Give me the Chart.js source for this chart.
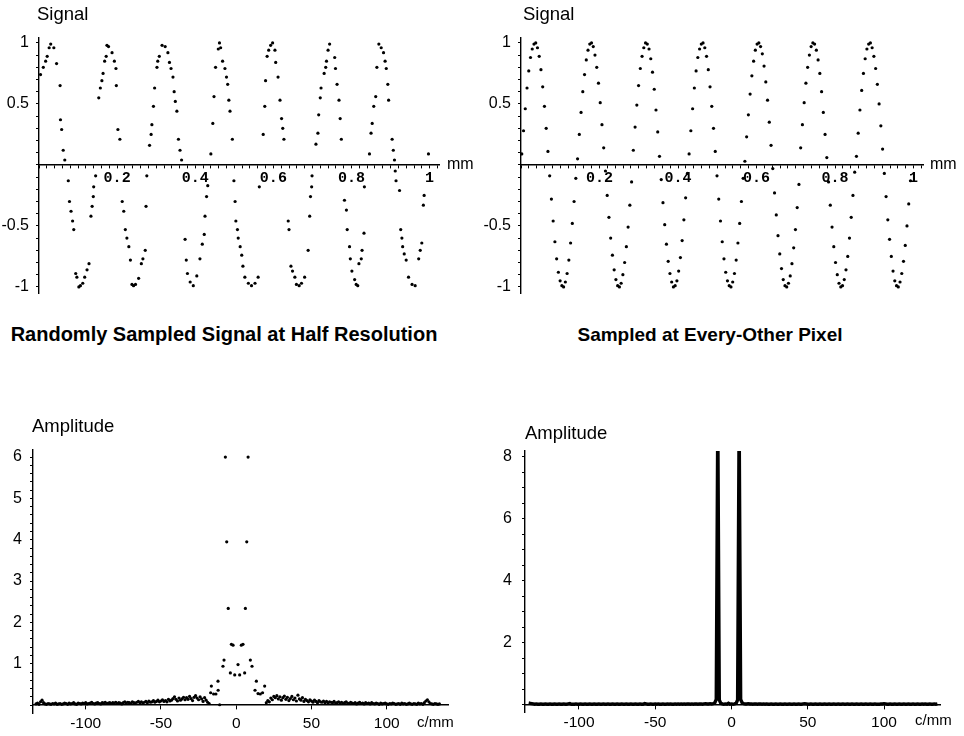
<!DOCTYPE html>
<html>
<head>
<meta charset="utf-8">
<title>Sampled signal and amplitude spectrum</title>
<script src="https://cdn.jsdelivr.net/npm/chart.js@4.4.1/dist/chart.umd.min.js"></script>
<style>
  body { margin: 0; background: #fff; }
  #page { position: relative; width: 964px; height: 736px; overflow: hidden;
          font-family: "Liberation Sans", Arial, Helvetica, sans-serif; color: #000; }
  #page canvas { position: absolute; }
  .txt { position: absolute; white-space: nowrap; line-height: 1; }
  .head { font-weight: bold; transform: translateX(-50%); }
</style>
</head>
<body>
<div id="page">
  <canvas id="randomChart" width="480" height="310" style="left:0;top:0"></canvas>
  <canvas id="evenChart" width="484" height="310" style="left:480px;top:0"></canvas>
  <canvas id="randomSpectrum" width="480" height="326" style="left:0;top:410px"></canvas>
  <canvas id="evenSpectrum" width="484" height="326" style="left:480px;top:410px"></canvas>

  <div class="txt" style="left:37px;top:5px;font-size:18.5px">Signal</div>
  <div class="txt" style="left:523px;top:5px;font-size:18.5px">Signal</div>
  <div class="txt" style="left:447px;top:156px;font-size:16px">mm</div>
  <div class="txt" style="left:930px;top:156px;font-size:16px">mm</div>

  <div class="txt head" style="left:224px;top:324px;font-size:20px">Randomly Sampled Signal at Half Resolution</div>
  <div class="txt head" style="left:710px;top:325px;font-size:19px">Sampled at Every-Other Pixel</div>

  <div class="txt" style="left:32px;top:417px;font-size:18.5px">Amplitude</div>
  <div class="txt" style="left:525px;top:424px;font-size:18.5px">Amplitude</div>
  <div class="txt" style="left:417px;top:714px;font-size:15px">c/mm</div>
  <div class="txt" style="left:915px;top:712px;font-size:15px">c/mm</div>
</div>

<script>
// Randomly sampled signal: position (mm) and value
const randomX = [
  .004, .011, .017, .021, .026, .030, .038, .045, .054, .055,
  .058, .062, .066, .075, .078, .082, .086, .089, .094, .097,
  .102, .106, .112, .117, .123, .128, .133, .136, .139, .140,
  .145, .153, .157, .161, .164, .168, .172, .174, .178, .187,
  .193, .197, .198, .202, .207, .213, .217, .221, .225, .230,
  .234, .238, .242, .247, .255, .262, .266, .272, .274, .276,
  .283, .287, .289, .293, .296, .302, .304, .308, .315, .323,
  .330, .334, .338, .343, .346, .349, .353, .357, .361, .365,
  .374, .377, .380, .387, .395, .404, .412, .418, .423, .425,
  .429, .432, .440, .445, .448, .452, .459, .462, .465, .470,
  .476, .480, .483, .486, .489, .495, .499, .502, .504, .508,
  .510, .515, .519, .522, .527, .536, .544, .553, .561, .564,
  .574, .578, .580, .584, .588, .593, .598, .604, .606, .612,
  .617, .621, .624, .627, .638, .640, .645, .649, .655, .659,
  .666, .672, .680, .689, .693, .695, .698, .699, .709, .714,
  .716, .720, .722, .730, .734, .736, .740, .744, .757, .759,
  .763, .768, .771, .774, .782, .787, .789, .795, .797, .801,
  .808, .812, .816, .819, .825, .827, .832, .833, .846, .850,
  .853, .857, .862, .865, .870, .876, .882, .886, .889, .893,
  .895, .904, .907, .910, .912, .914, .923, .926, .929, .931,
  .935, .940, .946, .955, .963, .972, .976, .980, .984, .986, .997
];
const randomY = [
  .74, .80, .85, .89, .96, .99, .96, .83, .65, .37,
  .29, .12, .04, -.13, -.30, -.38, -.46, -.53, -.89, -.92,
  -1, -.99, -.97, -.92, -.86, -.81, -.42, -.34, -.26, -.18,
  -.09, .55, .63, .69, .75, .85, .89, .98, .97, .92,
  .85, .79, .65, .29, .21, -.30, -.38, -.53, -.60, -.67,
  -.78, -.98, -.99, -.98, -.93, -.81, -.77, -.70, -.34, -.09,
  .16, .25, .33, .48, .63, .80, .85, .89, .98, .97,
  .92, .84, .79, .72, .60, .52, .44, .21, .12, .04,
  -.61, -.78, -.89, -.96, -.99, -.91, -.77, -.65, -.57, -.42,
  -.26, -.17, .09, .34, .56, .80, .95, 1, .96, .85,
  .79, .72, .66, .53, .44, .21, -.13, -.30, -.46, -.53,
  -.60, -.67, -.74, -.83, -.92, -.97, -.99, -.97, -.92, -.18,
  .25, .48, .69, .89, .94, .98, 1, .94, .84, .72,
  .53, .38, .30, .21, -.46, -.53, -.83, -.87, -.92, -.98,
  -.99, -.97, -.92, -.70, -.42, -.26, -.18, -.09, .17, .26,
  .41, .55, .63, .75, .80, .85, .94, .99, .88, .79,
  .66, .53, .38, .21, -.29, -.37, -.53, -.67, -.77, -.87,
  -.94, -.98, -.99, -.81, -.77, -.70, -.56, -.18, .09, .26,
  .34, .48, .56, .80, .99, .96, .92, .85, .79, .66,
  .53, .21, .12, .04, -.05, -.13, -.21, -.53, -.60, -.67,
  -.73, -.78, -.92, -.98, -.99, -.77, -.70, -.64, -.33, -.25, .09
];

// Every-other-pixel samples: first position, spacing (mm) and values
const evenStart = 0.002;
const evenStep = 0.00444;
const evenY = [
  .09, .28, .46, .63, .77, .88, .95, .99, 1, .96, .89, .78, .64, .48, .30, .11,
  -.09, -.28, -.46, -.63, -.77, -.88, -.95, -.99, -1, -.96, -.89, -.78, -.64, -.48, -.30, -.11,
  .05, .25, .43, .60, .74, .86, .94, .99, 1, .97, .90, .80, .67, .51, .33, .14,
  -.05, -.25, -.43, -.60, -.74, -.86, -.94, -.99, -1, -.97, -.90, -.80, -.67, -.51, -.33, -.14,
  .12, .31, .49, .65, .79, .89, .96, 1, .99, .95, .87, .76, .62, .45, .27, .07,
  -.12, -.31, -.49, -.65, -.79, -.89, -.96, -1, -.99, -.95, -.87, -.76, -.62, -.45, -.27, -.07,
  .09, .28, .46, .63, .77, .88, .95, .99, 1, .96, .89, .78, .64, .48, .30, .11,
  -.09, -.28, -.46, -.63, -.77, -.88, -.95, -.99, -1, -.96, -.89, -.78, -.64, -.48, -.30, -.11,
  .03, .23, .41, .58, .73, .85, .94, .99, 1, .97, .91, .81, .68, .53, .35, .16,
  -.03, -.23, -.41, -.58, -.73, -.85, -.94, -.99, -1, -.97, -.91, -.81, -.68, -.53, -.35, -.16,
  .14, .33, .51, .67, .80, .90, .97, 1, .99, .94, .86, .75, .60, .43, .25, .06,
  -.14, -.33, -.51, -.67, -.80, -.90, -.97, -1, -.99, -.94, -.86, -.75, -.60, -.43, -.25, -.06,
  .07, .26, .45, .61, .75, .87, .95, .99, 1, .96, .89, .79, .66, .50, .32, .13,
  -.07, -.26, -.45, -.61, -.75, -.87, -.95, -.99, -1, -.96, -.89, -.79, -.66, -.50, -.32, -.13
];

// Spectrum of the random samples: noise floor from -133 c/mm in steps of 1
const floorStart = -133;
const floorY = [
  .03, .05, .02, .08, .12, .06, .03, .02, .04, .03,
  .02, .04, .03, .05, .02, .03, .04, .02, .03, .05,
  .04, .02, .05, .03, .04, .06, .03, .02, .05, .04,
  .03, .05, .04, .06, .03, .04, .05, .07, .04, .03,
  .05, .06, .04, .03, .06, .05, .07, .04, .05, .06,
  .04, .06, .05, .07, .04, .06, .05, .03, .06, .08,
  .05, .07, .06, .04, .08, .06, .05, .07, .09, .06,
  .08, .05, .07, .09, .06, .10, .07, .08, .11, .07,
  .09, .12, .08, .10, .13, .09, .11, .08, .14, .10,
  .12, .16, .20, .14, .10, .17, .12, .15, .19, .13,
  .18, .14, .21, .16, .11, .19, .23, .17, .13, .20,
  .15, .09, .18, .12, .07, .04, null, null, null, null,
  null, null, null, null, null, null, null, null, null, null,
  null, null, null, null, null, null, null, null, null, null,
  null, null, null, null, null, null, null, null, null, null,
  null, null, null, .06, .11, .08, .17, .13, .21, .18,
  .23, .15, .20, .12, .18, .22, .14, .19, .11, .16,
  .21, .13, .17, .10, .24, .15, .12, .18, .09, .14,
  .11, .08, .13, .10, .07, .12, .09, .06, .11, .08,
  .07, .10, .06, .09, .05, .08, .07, .06, .09, .05,
  .06, .08, .05, .07, .04, .06, .08, .05, .04, .07,
  .05, .04, .06, .03, .05, .07, .04, .05, .03, .06,
  .04, .05, .03, .06, .04, .03, .05, .04, .02, .05,
  .03, .04, .05, .03, .02, .04, .03, .05, .04, .02,
  .03, .04, .02, .05, .03, .04, .02, .03, .05, .03,
  .02, .04, .03, .02, .05, .03, .04, .02, .06, .10,
  .13, .08, .04, .03, .02, .04, .03, .02, .03
];
// Spectrum of the random samples: central peak points
const peakX = [-7.2, 7.9, -6.3, 7.0, -5.3, 6.1, -3.2, -2.1, 3.4, 4.5,
  1.2, -3.9, -1.0, 2.3, 5.6, -8.1, 9.4, -8.8, 10.5,
  -12.1, 13.4, -16.5, 18.9, -17.0, -15.0, -13.5, -12.0, 12.5, 14.5, 16.0, 17.5, -11.0];
const peakY = [6.0, 6.0, 3.95, 3.95, 2.34, 2.34, 1.47, 1.45, 1.45, 1.47,
  .98, .78, .73, .73, .78, 1.09, 1.09, .94, .94,
  .58, .58, .46, .46, .30, .27, .27, .36, .36, .28, .27, .30, .01];

// Spectrum of the even samples, from -133 c/mm in steps of 1
const evenSpecStart = -133;
const evenSpecY = [
  .06, .05, .04, .03, .02, .03, .02, .02, .03, .02,
  .02, .03, .02, .02, .03, .02, .02, .03, .02, .02,
  .03, .02, .02, .03, .02, .02, .03, .04, .02, .02,
  .02, .03, .02, .02, .03, .02, .02, .03, .02, .02,
  .03, .02, .02, .03, .02, .02, .03, .02, .02, .03,
  .02, .02, .03, .02, .02, .03, .02, .02, .03, .02,
  .02, .03, .02, .02, .03, .02, .02, .03, .02, .02,
  .03, .02, .02, .03, .02, .02, .04, .03, .02, .02,
  .03, .02, .02, .03, .02, .03, .02, .02, .03, .02,
  .02, .03, .02, .03, .02, .02, .03, .02, .03, .02,
  .03, .02, .03, .02, .03, .03, .02, .03, .02, .03,
  .03, .02, .03, .03, .02, .03, .04, .03, .03, .04,
  .03, .04, .06, .18, 9.3, .16, .05, .03, .02, .03,
  .02, .05, .02, .03, .02, .03, .05, .16, 9.3, .18,
  .06, .04, .03, .03, .04, .03, .03, .02, .03, .03,
  .02, .03, .03, .02, .03, .02, .03, .02, .02, .03,
  .02, .02, .03, .02, .02, .03, .02, .02, .03, .02,
  .02, .03, .02, .02, .03, .02, .02, .03, .02, .02,
  .03, .04, .03, .02, .02, .03, .02, .02, .03, .02,
  .02, .03, .02, .02, .03, .02, .02, .03, .02, .02,
  .03, .02, .02, .03, .02, .02, .03, .02, .02, .03,
  .02, .02, .03, .02, .02, .03, .02, .02, .03, .02,
  .02, .03, .02, .02, .03, .02, .02, .03, .02, .02,
  .02, .03, .03, .04, .03, .02, .02, .03, .02, .02,
  .03, .02, .02, .03, .02, .02, .03, .02, .02, .03,
  .02, .02, .03, .02, .02, .03, .02, .02, .03, .02,
  .03, .02, .02, .03, .02, .02, .03, .02, .03
];

// Tick labels
const signalXLabels = [0.2, 0.4, 0.6, 0.8, 1];
const signalYLabels = [-1, -0.5, 0.5, 1];
const freqLabels = [-100, -50, 0, 50, 100];
const randomAmpLabels = [1, 2, 3, 4, 5, 6];
const evenAmpLabels = [2, 4, 6, 8];

function toPoints(xs, ys) {
  return xs.map((x, i) => ({ x: x, y: ys[i] }));
}

function gridPoints(start, step, ys) {
  const pts = [];
  ys.forEach((y, i) => {
    if (y !== null) pts.push({ x: start + i * step, y: y });
  });
  return pts;
}

function tickMarks(from, to, step) {
  const out = [];
  const n = Math.round((to - from) / step);
  for (let i = 0; i <= n; i++) out.push({ value: +(from + i * step).toFixed(4) });
  return out;
}

function labelFor(list) {
  return (value) => {
    const hit = list.find(l => Math.abs(l - value) < 1e-6);
    return hit === undefined ? '' : String(hit);
  };
}

const sansFont = '"Liberation Sans", Arial, Helvetica, sans-serif';
const monoFont = '"Liberation Mono", "Courier New", monospace';

// boxWidth: room kept left of a y axis for its labels (x axes take no room)
function makeScale(o) {
  return {
    type: 'linear',
    min: o.min,
    max: o.max,
    position: o.position,
    border: { display: true, color: '#000', width: 1.4 },
    grid: { display: true, drawOnChartArea: false, drawTicks: true,
            tickLength: o.tickLength, tickColor: '#000', tickWidth: 1 },
    ticks: { autoSkip: false, maxRotation: 0, padding: o.padding, color: '#000',
             font: o.font, callback: labelFor(o.labels) },
    afterBuildTicks: (s) => { s.ticks = tickMarks(o.from, o.to, o.step); },
    afterFit: (s) => { if (s.isHorizontal()) s.height = 0; else s.width = o.boxWidth; }
  };
}

function baseOptions(padding, scales) {
  return {
    responsive: false,
    animation: false,
    events: [],
    layout: { padding: padding },
    plugins: { legend: { display: false }, tooltip: { enabled: false } },
    scales: scales
  };
}

const dotStyle = { pointRadius: 1.6, pointHoverRadius: 1.6, pointBackgroundColor: '#000', pointBorderWidth: 0 };

function signalScales(boxWidth) {
  return {
    x: makeScale({ min: 0, max: 1.024, position: { y: 0 }, from: 0, to: 1.02, step: 0.02,
                   tickLength: 3, padding: 1, labels: signalXLabels,
                   font: { family: monoFont, size: 15, weight: 'bold' } }),
    y: makeScale({ min: -1.05, max: 1.04, position: 'left', from: -1, to: 1, step: 0.1,
                   tickLength: 3, padding: 7, labels: signalYLabels, boxWidth: boxWidth,
                   font: { family: sansFont, size: 16 } })
  };
}

// Randomly sampled signal
new Chart(document.getElementById('randomChart'), {
  type: 'scatter',
  data: { datasets: [Object.assign({ data: toPoints(randomX, randomY) }, dotStyle)] },
  options: baseOptions({ left: 0, right: 41, top: 38, bottom: 17 }, signalScales(39))
});

// Every-other-pixel signal
new Chart(document.getElementById('evenChart'), {
  type: 'scatter',
  data: { datasets: [Object.assign({ data: gridPoints(evenStart, evenStep, evenY) }, dotStyle)] },
  options: baseOptions({ left: 0, right: 41, top: 38, bottom: 17 }, signalScales(41))
});

// Spectrum of the random samples
new Chart(document.getElementById('randomSpectrum'), {
  type: 'scatter',
  data: { datasets: [
    Object.assign({ data: gridPoints(floorStart, 1, floorY) }, dotStyle),
    Object.assign({ data: toPoints(peakX, peakY) }, dotStyle)
  ] },
  options: baseOptions({ left: 0, right: 32, top: 40, bottom: 23 }, {
    x: makeScale({ min: -135, max: 140.7, position: { y: 0 }, from: -100, to: 100, step: 50,
                   tickLength: 4, padding: 5, labels: freqLabels,
                   font: { family: sansFont, size: 15.5 } }),
    y: makeScale({ min: -0.19, max: 6.17, position: 'left', from: 0, to: 6, step: 0.2,
                   tickLength: 3, padding: 8, labels: randomAmpLabels, boxWidth: 33,
                   font: { family: sansFont, size: 16 } })
  })
});

// Spectrum of the even samples
new Chart(document.getElementById('evenSpectrum'), {
  type: 'scatter',
  data: { datasets: [{
    data: gridPoints(evenSpecStart, 1, evenSpecY),
    showLine: true,
    borderColor: '#000',
    borderWidth: 3.4,
    pointRadius: 0,
    pointHoverRadius: 0
  }] },
  options: baseOptions({ left: 0, right: 24, top: 41, bottom: 24 }, {
    x: makeScale({ min: -135.4, max: 136.7, position: { y: 0 }, from: -100, to: 100, step: 50,
                   tickLength: 4, padding: 5, labels: freqLabels,
                   font: { family: sansFont, size: 15.5 } }),
    y: makeScale({ min: -0.23, max: 8.19, position: 'left', from: 0, to: 8, step: 0.5,
                   tickLength: 3, padding: 10, labels: evenAmpLabels, boxWidth: 45,
                   font: { family: sansFont, size: 16 } })
  })
});
</script>
</body>
</html>
